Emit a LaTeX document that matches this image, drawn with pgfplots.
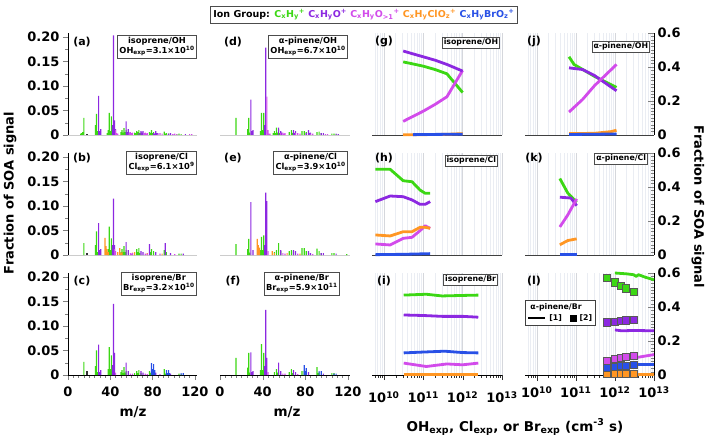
\documentclass[border=0pt]{standalone}
\usepackage{pgfplots}
\pgfplotsset{compat=1.18}
\usepackage{fontspec}
\setmainfont{DejaVu Sans}
\definecolor{xgr}{RGB}{60,215,20}
\definecolor{xpu}{RGB}{140,40,225}
\definecolor{xmg}{RGB}{210,75,235}
\definecolor{xor}{RGB}{255,150,35}
\definecolor{xbl}{RGB}{40,80,230}
\definecolor{gridc}{RGB}{234,237,243}
\newcommand{\tk}{\bfseries\fontsize{13}{14}\selectfont}
\newcommand{\bx}{\bfseries\fontsize{8.3}{10}\selectfont}
\newcommand{\sbx}{\bfseries\fontsize{7.8}{9}\selectfont}
\pgfplotsset{
  base/.style={scale only axis, height=102pt, axis line style={-}, major tick length=5pt, minor tick length=2.5pt,
    tick label style={font=\tk}},
  spec/.style={base, width=129pt, xmin=0, xmax=122, ymin=0, ymax=0.208, axis x line*=bottom,
    xtick=\empty, ytick=\empty, x axis line style={gray!40}},
  specleft/.style={axis y line*=left, ytick={0,0.05,0.1,0.15,0.2}, yticklabels={0,0.05,0.10,0.15,0.20},
    minor y tick num=1, tick align=outside, y axis line style={black}},
  specbottom/.style={xtick={0,40,80,120}, xticklabels={0,40,80,120}, minor x tick num=7, x axis line style={black}, tick align=outside,
    xticklabel style={yshift=-3pt}},
  kin/.style={base, width=130pt, xmin=5.0119e9, xmax=1e13, ymin=0, ymax=0.6, axis x line*=bottom,
    xtick={1e10,1e11,1e12,1e13}, xticklabels={}, ytick=\empty,
    minor xtick={6e9,7e9,8e9,9e9,2e10,3e10,4e10,5e10,6e10,7e10,8e10,9e10,2e11,3e11,4e11,5e11,6e11,7e11,8e11,9e11,2e12,3e12,4e12,5e12,6e12,7e12,8e12,9e12},
    xmajorgrids, xminorgrids, major grid style={gridc!80!gray, line width=0.45pt}, minor grid style={gridc, line width=0.45pt},
    x tick style={draw=none}, x axis line style={black!75, line width=0.7pt}, clip=false},
  kinright/.style={width=129pt, axis y line*=right, ytick={0,0.2,0.4,0.6}, yticklabels={0,0.2,0.4,0.6}, minor y tick num=9,
    tick align=inside, major tick length=6pt, minor tick length=3pt, y axis line style={black, line width=0.7pt}},
  kinbottom/.style={xticklabels={10\textsuperscript{10},10\textsuperscript{11},10\textsuperscript{12},10\textsuperscript{13}},
    x tick style={draw=black!80}, x axis line style={black}, xticklabel style={yshift=-8pt}},
  gb/.style={ybar, bar width=1.1, bar shift=0pt, draw=none, fill=xgr},
  pb/.style={ybar, bar width=1.1, bar shift=0pt, draw=none, fill=xpu},
  mb/.style={ybar, bar width=1.1, bar shift=0pt, draw=none, fill=xmg},
  ob/.style={ybar, bar width=1.1, bar shift=0pt, draw=none, fill=xor},
  bb/.style={ybar, bar width=1.1, bar shift=0pt, draw=none, fill=xbl},
  kb/.style={ybar, bar width=1.1, bar shift=0pt, draw=none, fill=black!80},
  kl/.style={line width=2.8pt, line join=round, no marks},
  sq/.style={only marks, mark=square*, mark size=3.6pt, mark options={draw=gray!70!black, line width=0.6pt}},
}
\begin{document}
\begin{tikzpicture}
\useasboundingbox (0pt,0pt) rectangle (709pt,-438pt);

% ---------------- (a) isoprene/OH
\begin{axis}[spec, specleft, at={(68pt,-135pt)}, anchor=south west]
\addplot[gb] coordinates {(12,0.003)(13,0.004)(14,0.006)(15,0.035)(26,0.020)(27,0.043)(28,0.008)(37,0.004)(38,0.010)(39,0.045)(40,0.008)(41,0.038)(42,0.006)(50,0.006)(51,0.010)(52,0.005)(53,0.014)(54,0.006)(55,0.010)(56,0.003)(63,0.005)(64,0.004)(65,0.008)(66,0.006)(67,0.010)(68,0.004)(69,0.005)(77,0.006)(78,0.004)(79,0.010)(80,0.004)(81,0.006)(91,0.007)(92,0.003)(93,0.004)(95,0.003)(103,0.002)(105,0.003)(107,0.002)};
\addplot[pb] coordinates {(29,0.080)(30,0.008)(31,0.012)(42,0.020)(43,0.203)(44,0.030)(45,0.012)(55,0.028)(56,0.006)(57,0.012)(58,0.005)(59,0.006)(67,0.004)(69,0.008)(70,0.005)(71,0.008)(73,0.004)(81,0.004)(82,0.003)(83,0.008)(84,0.004)(85,0.004)(95,0.003)(97,0.004)(99,0.002)(111,0.002)};
\addplot[mb] coordinates {(45,0.010)(46,0.004)(47,0.003)(58,0.004)(59,0.006)(60,0.004)(61,0.005)(72,0.004)(73,0.005)(74,0.003)(75,0.004)(85,0.003)(87,0.004)(89,0.003)(99,0.002)(101,0.003)(103,0.002)(115,0.002)(117,0.002)};
\addplot[kb] coordinates {(18,0.003)};
\end{axis}

% ---------------- (b) isoprene/Cl
\begin{axis}[spec, specleft, at={(68pt,-255pt)}, anchor=south west]
\addplot[gb] coordinates {(15,0.024)(26,0.020)(27,0.048)(28,0.006)(38,0.012)(39,0.058)(40,0.010)(41,0.034)(50,0.006)(51,0.012)(52,0.006)(53,0.018)(54,0.006)(55,0.010)(63,0.006)(65,0.012)(66,0.006)(67,0.014)(68,0.004)(78,0.006)(79,0.012)(81,0.008)(91,0.010)(93,0.006)(105,0.003)(107,0.003)};
\addplot[ob] coordinates {(35,0.035)(36,0.018)(37,0.012)(38,0.006)(47,0.006)(49,0.014)(50,0.004)(51,0.006)(61,0.005)(63,0.006)(75,0.004)(89,0.003)};
\addplot[pb] coordinates {(29,0.065)(30,0.010)(31,0.012)(42,0.020)(43,0.115)(44,0.020)(55,0.026)(57,0.010)(69,0.008)(71,0.006)(77,0.022)(83,0.006)(92,0.024)(97,0.004)(109,0.003)};
\addplot[mb] coordinates {(44,0.012)(45,0.008)(59,0.004)(60,0.003)(61,0.004)(73,0.003)(75,0.003)(87,0.003)(101,0.002)};
\addplot[kb] coordinates {(18,0.004)};
\end{axis}

% ---------------- (c) isoprene/Br
\begin{axis}[spec, specleft, specbottom, at={(68pt,-375pt)}, anchor=south west]
\addplot[gb] coordinates {(15,0.027)(26,0.018)(27,0.050)(28,0.006)(38,0.012)(39,0.057)(40,0.012)(41,0.040)(50,0.006)(51,0.010)(52,0.004)(53,0.016)(54,0.005)(55,0.008)(63,0.004)(65,0.008)(66,0.004)(67,0.010)(69,0.004)(77,0.008)(78,0.004)(79,0.006)(91,0.012)(92,0.003)(93,0.005)(105,0.003)(107,0.002)};
\addplot[pb] coordinates {(29,0.062)(30,0.006)(31,0.010)(42,0.020)(43,0.145)(44,0.045)(55,0.025)(57,0.008)(69,0.008)(71,0.005)(83,0.005)(97,0.003)};
\addplot[bb] coordinates {(79,0.024)(80,0.012)(81,0.022)(82,0.010)(93,0.010)(94,0.004)(95,0.010)(96,0.004)(107,0.004)(109,0.004)};
\addplot[mb] coordinates {(45,0.005)(59,0.003)(61,0.003)(73,0.003)(75,0.002)(87,0.002)};
\addplot[kb] coordinates {(18,0.008)};
\end{axis}

% ---------------- (d) a-pinene/OH
\begin{axis}[spec, axis y line=none, at={(220pt,-135pt)}, anchor=south west, width=130pt]
\addplot[gb] coordinates {(15,0.035)(26,0.012)(27,0.035)(28,0.005)(38,0.008)(39,0.045)(40,0.010)(41,0.045)(42,0.006)(50,0.004)(51,0.008)(52,0.004)(53,0.015)(54,0.005)(55,0.012)(56,0.004)(65,0.006)(67,0.010)(68,0.004)(69,0.006)(77,0.008)(79,0.008)(81,0.006)(91,0.006)(93,0.007)(95,0.004)(105,0.003)(107,0.003)(109,0.002)};
\addplot[pb] coordinates {(29,0.072)(30,0.008)(31,0.010)(42,0.020)(43,0.178)(55,0.015)(57,0.008)(58,0.005)(69,0.010)(70,0.004)(71,0.008)(81,0.004)(83,0.010)(84,0.004)(85,0.005)(95,0.004)(97,0.004)(109,0.003)(111,0.002)};
\addplot[mb] coordinates {(44,0.078)(45,0.010)(46,0.003)(47,0.003)(57,0.004)(59,0.005)(60,0.003)(61,0.004)(71,0.004)(73,0.004)(75,0.003)(85,0.003)(87,0.003)(99,0.002)(101,0.002)};
\end{axis}

% ---------------- (e) a-pinene/Cl
\begin{axis}[spec, axis y line=none, at={(220pt,-255pt)}, anchor=south west, width=130pt]
\addplot[gb] coordinates {(15,0.022)(26,0.012)(27,0.033)(28,0.005)(38,0.010)(39,0.037)(40,0.010)(41,0.040)(42,0.006)(51,0.006)(53,0.010)(55,0.024)(57,0.008)(65,0.008)(67,0.010)(69,0.008)(77,0.014)(79,0.014)(81,0.008)(91,0.013)(93,0.008)(95,0.004)(105,0.004)(107,0.004)(119,0.002)};
\addplot[ob] coordinates {(35,0.033)(36,0.020)(37,0.015)(49,0.008)(51,0.004)(63,0.004)(75,0.003)};
\addplot[pb] coordinates {(29,0.108)(31,0.010)(42,0.020)(43,0.127)(44,0.110)(57,0.010)(69,0.010)(71,0.008)(83,0.008)(85,0.004)(95,0.004)(97,0.004)(109,0.003)};
\addplot[mb] coordinates {(45,0.008)(59,0.004)(61,0.003)(73,0.003)(87,0.002)};
\end{axis}

% ---------------- (f) a-pinene/Br
\begin{axis}[spec, specbottom, axis y line=none, at={(220pt,-375pt)}, anchor=south west, width=130pt]
\addplot[gb] coordinates {(15,0.035)(26,0.015)(27,0.045)(28,0.005)(38,0.010)(39,0.063)(40,0.010)(41,0.045)(42,0.006)(51,0.006)(53,0.012)(54,0.005)(55,0.010)(65,0.006)(67,0.012)(68,0.004)(77,0.008)(79,0.008)(81,0.006)(91,0.016)(92,0.004)(93,0.006)(105,0.004)(107,0.004)};
\addplot[pb] coordinates {(29,0.046)(30,0.006)(31,0.008)(42,0.018)(43,0.133)(44,0.035)(55,0.025)(57,0.008)(69,0.010)(71,0.006)(83,0.006)(97,0.003)};
\addplot[bb] coordinates {(79,0.020)(80,0.008)(81,0.014)(93,0.008)(95,0.008)(107,0.003)(109,0.003)};
\addplot[mb] coordinates {(45,0.006)(59,0.003)(61,0.003)(73,0.002)};
\end{axis}

% ---------------- (g) isoprene/OH kinetics
\begin{axis}[xmode=log, kin, axis y line=none, at={(372pt,-135pt)}, anchor=south west]
\addplot[kl, xor] coordinates {(3.1e10,0.001)(5e10,0.002)(1e11,0.002)(2e11,0.003)(4e11,0.004)(1e12,0.008)};
\addplot[kl, xbl] coordinates {(5.5e10,0.002)(1e11,0.003)(4e11,0.004)(1e12,0.005)};
\addplot[kl, xgr] coordinates {(3.1e10,0.43)(5e10,0.42)(1e11,0.405)(2e11,0.385)(4e11,0.36)(1e12,0.25)};
\addplot[kl, xmg] coordinates {(3.1e10,0.08)(5e10,0.105)(1e11,0.14)(2e11,0.18)(4e11,0.225)(1e12,0.38)};
\addplot[kl, xpu] coordinates {(3.1e10,0.494)(5e10,0.48)(1e11,0.46)(2e11,0.44)(4e11,0.415)(1e12,0.376)};
\end{axis}

% ---------------- (h) isoprene/Cl kinetics
\begin{axis}[xmode=log, kin, axis y line=none, at={(372pt,-255pt)}, anchor=south west]
\addplot[kl, xbl] coordinates {(6.1e9,0.002)(3e10,0.004)(1.5e11,0.008)};
\addplot[kl, xmg] coordinates {(6.1e9,0.065)(1.45e10,0.059)(3.1e10,0.098)(5.2e10,0.104)(8.3e10,0.143)(1.12e11,0.172)(1.5e11,0.157)};
\addplot[kl, xor] coordinates {(6.1e9,0.118)(1.45e10,0.112)(3.1e10,0.137)(5.2e10,0.137)(8.3e10,0.163)(1.12e11,0.163)(1.5e11,0.157)};
\addplot[kl, xpu] coordinates {(6.1e9,0.314)(1.45e10,0.347)(3.1e10,0.343)(5.2e10,0.324)(8.3e10,0.298)(1.12e11,0.298)(1.5e11,0.314)};
\addplot[kl, xgr] coordinates {(6.1e9,0.504)(1.45e10,0.504)(3.1e10,0.437)(5.2e10,0.431)(8.3e10,0.382)(1.12e11,0.363)(1.5e11,0.363)};
\end{axis}

% ---------------- (i) isoprene/Br kinetics
\begin{axis}[xmode=log, kin, kinbottom, axis y line=none, tick align=outside, at={(372pt,-375pt)}, anchor=south west]
\addplot[kl, xor] coordinates {(3.2e10,0.003)(2.5e12,0.003)};
\addplot[kl, xmg] coordinates {(3.2e10,0.07)(1.2e11,0.05)(4e11,0.065)(1e12,0.06)(2.5e12,0.07)};
\addplot[kl, xbl] coordinates {(3.2e10,0.13)(1e11,0.135)(3.5e11,0.14)(1e12,0.132)(2.5e12,0.13)};
\addplot[kl, xpu] coordinates {(3.2e10,0.353)(1e11,0.35)(3e11,0.345)(1e12,0.345)(2.5e12,0.34)};
\addplot[kl, xgr] coordinates {(3.2e10,0.47)(1.2e11,0.475)(3e11,0.465)(1e12,0.468)(2.5e12,0.47)};
\end{axis}

% ---------------- (j) a-pinene/OH kinetics
\begin{axis}[xmode=log, kin, kinright, at={(525pt,-135pt)}, anchor=south west]
\addplot[kl, xor] coordinates {(6.7e10,0.008)(3e11,0.01)(8e11,0.02)(1.1e12,0.028)};
\addplot[kl, xbl] coordinates {(6.7e10,0.003)(1.1e12,0.006)};
\addplot[kl, xgr] coordinates {(6.7e10,0.46)(9e10,0.415)(3e11,0.345)(1.1e12,0.28)};
\addplot[kl, xpu] coordinates {(6.7e10,0.395)(1.5e11,0.385)(3e11,0.35)(1.1e12,0.26)};
\addplot[kl, xmg] coordinates {(6.7e10,0.135)(1.5e11,0.21)(3e11,0.29)(1.1e12,0.415)};
\end{axis}

% ---------------- (k) a-pinene/Cl kinetics
\begin{axis}[xmode=log, kin, kinright, at={(525pt,-255pt)}, anchor=south west]
\addplot[kl, xbl] coordinates {(3.9e10,0.005)(1.05e11,0.005)};
\addplot[kl, xor] coordinates {(3.9e10,0.06)(6.2e10,0.085)(1.05e11,0.095)};
\addplot[kl, xgr] coordinates {(3.9e10,0.45)(6.2e10,0.365)(1.05e11,0.31)};
\addplot[kl, xpu] coordinates {(3.9e10,0.34)(7.5e10,0.335)(1.05e11,0.29)};
\addplot[kl, xmg] coordinates {(3.9e10,0.165)(6.2e10,0.235)(1.05e11,0.33)};
\end{axis}

% ---------------- (l) a-pinene/Br kinetics
\begin{axis}[xmode=log, kin, kinright, kinbottom, major x tick style={yshift=-6pt}, minor x tick style={yshift=-3pt},
   at={(525pt,-375pt)}, anchor=south west,
   legend columns=2, legend cell align=left,
   legend style={at={(0,0.735)}, anchor=north west, draw=black!75, line width=0.9pt, font=\sbx, inner sep=1.5pt,
     column sep=1pt, row sep=-1pt}]
\addlegendimage{empty legend}\addlegendentry{\makebox[0pt][l]{\hspace*{-19pt}α-pinene/Br}}
\addlegendimage{empty legend}\addlegendentry{}
\addlegendimage{black, line width=2.4pt}\addlegendentry{[1]}
\addlegendimage{only marks, mark=square*, mark size=3pt, black}\addlegendentry{[2]}
\addplot[kl, xor] coordinates {(1e12,0.005)(1e13,0.005)};
\addplot[kl, xbl] coordinates {(1e12,0.06)(3e12,0.06)(1e13,0.06)};
\addplot[kl, xmg] coordinates {(1e12,0.09)(3e12,0.1)(1e13,0.12)};
\addplot[kl, xpu] coordinates {(1e12,0.265)(1.5e12,0.26)(3e12,0.262)(1e13,0.26)};
\addplot[kl, xgr] coordinates {(1e12,0.6)(2e12,0.595)(3e12,0.59)(3.5e12,0.58)(4e12,0.59)(6e12,0.575)(1e13,0.56)};
\addplot[sq, xor] coordinates {(6.2e11,0.005)(1e12,0.005)(1.4e12,0.005)(1.9e12,0.005)(3e12,0.005)};
\addplot[sq, xbl] coordinates {(6.2e11,0.045)(1e12,0.05)(1.4e12,0.055)(1.9e12,0.055)(3e12,0.06)};
\addplot[sq, xmg] coordinates {(6.2e11,0.085)(1e12,0.095)(1.4e12,0.1)(1.9e12,0.105)(3e12,0.115)};
\addplot[sq, xpu] coordinates {(6.2e11,0.31)(1e12,0.315)(1.4e12,0.32)(1.9e12,0.322)(3e12,0.325)};
\addplot[sq, xgr] coordinates {(6.2e11,0.57)(1e12,0.545)(1.4e12,0.525)(1.9e12,0.51)(3e12,0.49)};
\end{axis}

% ---------------- panel labels
\foreach \l/\x/\y in {a/82/42,b/82/158,c/82/281,d/233/42,e/233/158,f/233/281,g/384/42,h/384/158,i/384/281,j/534/42,k/534/158,l/534/281}
  \node[font=\bfseries\fontsize{11}{12}\selectfont] at (\x pt,-\y pt) {(\l)};

% ---------------- annotation boxes
\tikzset{ab/.style={draw=black!70, line width=0.9pt, fill=white, align=center, inner sep=2pt, anchor=north east}}
\node[ab, font=\bx] at (197pt,-35pt) {isoprene/OH\\OH\textsubscript{exp}=3.1×10\textsuperscript{10}};
\node[ab, font=\bx] at (197pt,-151pt) {isoprene/Cl\\Cl\textsubscript{exp}=6.1×10\textsuperscript{9}};
\node[ab, font=\bx] at (197pt,-272pt) {isoprene/Br\\Br\textsubscript{exp}=3.2×10\textsuperscript{10}};
\node[ab, font=\bx] at (348pt,-35pt) {α-pinene/OH\\OH\textsubscript{exp}=6.7×10\textsuperscript{10}};
\node[ab, font=\bx] at (348pt,-151pt) {α-pinene/Cl\\Cl\textsubscript{exp}=3.9×10\textsuperscript{10}};
\node[ab, font=\bx] at (340pt,-272pt) {α-pinene/Br\\Br\textsubscript{exp}=5.9×10\textsuperscript{11}};
\node[ab, font=\sbx, inner sep=1.5pt] at (500pt,-37pt) {isoprene/OH};
\node[ab, font=\sbx, inner sep=1.5pt] at (498pt,-155pt) {isoprene/Cl};
\node[ab, font=\sbx, inner sep=1.5pt] at (498pt,-274pt) {isoprene/Br};
\node[ab, font=\sbx, inner sep=1.5pt] at (650pt,-41pt) {α-pinene/OH};
\node[ab, font=\sbx, inner sep=1.5pt] at (648pt,-153pt) {α-pinene/Cl};

% ---------------- top legend
\node[draw=black!70, line width=0.9pt, fill=white, inner sep=3pt, font=\bfseries\fontsize{9.5}{11}\selectfont] at (364pt,-15pt)
 {Ion Group: \textcolor{xgr}{C\textsubscript{x}H\textsubscript{y}\textsuperscript{+}}
  \textcolor{xpu}{C\textsubscript{x}H\textsubscript{y}O\textsuperscript{+}}
  \textcolor{xmg}{C\textsubscript{x}H\textsubscript{y}O\textsubscript{>1}\textsuperscript{+}}
  \textcolor{xor}{C\textsubscript{x}H\textsubscript{y}ClO\textsubscript{z}\textsuperscript{+}}
  \textcolor{xbl}{C\textsubscript{x}H\textsubscript{y}BrO\textsubscript{z}\textsuperscript{+}}};

% ---------------- axis titles
\node[font=\bfseries\fontsize{13.5}{14}\selectfont] at (133pt,-412pt) {m/z};
\node[font=\bfseries\fontsize{13.5}{14}\selectfont] at (287pt,-412pt) {m/z};
\node[font=\bfseries\fontsize{13.5}{14}\selectfont] at (515pt,-427pt) {OH\textsubscript{exp}, Cl\textsubscript{exp}, or Br\textsubscript{exp} (cm\textsuperscript{-3} s)};
\node[font=\bfseries\fontsize{13}{14}\selectfont, rotate=90] at (10pt,-193pt) {Fraction of SOA signal};
\node[font=\bfseries\fontsize{13}{14}\selectfont, rotate=-90] at (698pt,-207pt) {Fraction of SOA signal};
\end{tikzpicture}
\end{document}
